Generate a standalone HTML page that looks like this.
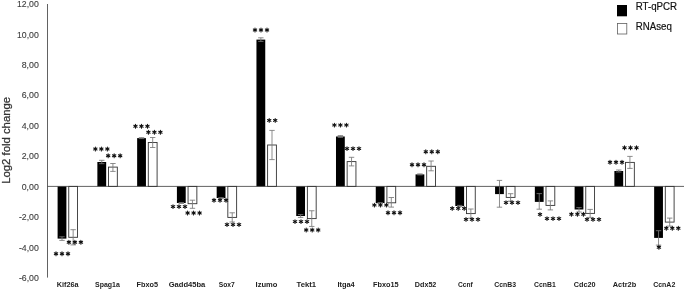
<!DOCTYPE html><html><head><meta charset="utf-8"><style>html,body{margin:0;padding:0;background:#fff}body{width:685px;height:290px;overflow:hidden}svg{will-change:transform;transform:translateZ(0)}</style></head><body><svg width="685" height="290" viewBox="0 0 685 290" style="display:block;font-family:'Liberation Sans',sans-serif"><rect width="685" height="290" fill="#fff"/><rect x="57.60" y="186.40" width="8.80" height="52.20" fill="#000"/><rect x="68.75" y="186.40" width="8.80" height="50.90" fill="#fff" stroke="#333" stroke-width="0.9"/><path d="M62.00 236.80V240.40M59.30 236.80H64.70M59.30 240.40H64.70" stroke="#787878" stroke-width="0.85" fill="none"/><path d="M73.15 229.70V244.90M70.45 229.70H75.85M70.45 244.90H75.85" stroke="#787878" stroke-width="0.85" fill="none"/><rect x="97.37" y="162.00" width="8.80" height="24.40" fill="#000"/><rect x="108.52" y="167.10" width="8.80" height="19.30" fill="#fff" stroke="#333" stroke-width="0.9"/><path d="M101.77 160.30V163.70M99.07 160.30H104.47M99.07 163.70H104.47" stroke="#787878" stroke-width="0.85" fill="none"/><path d="M112.92 163.50V171.40M110.22 163.50H115.62M110.22 171.40H115.62" stroke="#787878" stroke-width="0.85" fill="none"/><rect x="137.14" y="138.10" width="8.80" height="48.30" fill="#000"/><rect x="148.29" y="142.50" width="8.80" height="43.90" fill="#fff" stroke="#333" stroke-width="0.9"/><path d="M141.54 137.60V138.60M138.84 137.60H144.24M138.84 138.60H144.24" stroke="#787878" stroke-width="0.85" fill="none"/><path d="M152.69 137.50V147.50M149.99 137.50H155.39M149.99 147.50H155.39" stroke="#787878" stroke-width="0.85" fill="none"/><rect x="176.91" y="186.40" width="8.80" height="16.60" fill="#000"/><rect x="188.06" y="186.40" width="8.80" height="17.30" fill="#fff" stroke="#333" stroke-width="0.9"/><path d="M181.31 202.50V203.50M178.61 202.50H184.01M178.61 203.50H184.01" stroke="#787878" stroke-width="0.85" fill="none"/><path d="M192.46 200.20V208.30M189.76 200.20H195.16M189.76 208.30H195.16" stroke="#787878" stroke-width="0.85" fill="none"/><rect x="216.68" y="186.40" width="8.80" height="11.60" fill="#000"/><rect x="227.83" y="186.40" width="8.80" height="31.00" fill="#fff" stroke="#333" stroke-width="0.9"/><path d="M221.08 197.60V198.40M218.38 197.60H223.78M218.38 198.40H223.78" stroke="#787878" stroke-width="0.85" fill="none"/><path d="M232.23 212.80V222.00M229.53 212.80H234.93M229.53 222.00H234.93" stroke="#787878" stroke-width="0.85" fill="none"/><rect x="256.45" y="39.60" width="8.80" height="146.80" fill="#000"/><rect x="267.60" y="145.00" width="8.80" height="41.40" fill="#fff" stroke="#333" stroke-width="0.9"/><path d="M260.85 37.80V41.40M258.15 37.80H263.55M258.15 41.40H263.55" stroke="#787878" stroke-width="0.85" fill="none"/><path d="M272.00 130.40V159.60M269.30 130.40H274.70M269.30 159.60H274.70" stroke="#787878" stroke-width="0.85" fill="none"/><rect x="296.22" y="186.40" width="8.80" height="29.60" fill="#000"/><rect x="307.37" y="186.40" width="8.80" height="32.20" fill="#fff" stroke="#333" stroke-width="0.9"/><path d="M300.62 214.60V217.40M297.92 214.60H303.32M297.92 217.40H303.32" stroke="#787878" stroke-width="0.85" fill="none"/><path d="M311.77 210.75V226.45M309.07 210.75H314.47M309.07 226.45H314.47" stroke="#787878" stroke-width="0.85" fill="none"/><rect x="335.99" y="136.50" width="8.80" height="49.90" fill="#000"/><rect x="347.14" y="161.60" width="8.80" height="24.80" fill="#fff" stroke="#333" stroke-width="0.9"/><path d="M340.39 135.60V137.40M337.69 135.60H343.09M337.69 137.40H343.09" stroke="#787878" stroke-width="0.85" fill="none"/><path d="M351.54 157.30V165.90M348.84 157.30H354.24M348.84 165.90H354.24" stroke="#787878" stroke-width="0.85" fill="none"/><rect x="375.76" y="186.40" width="8.80" height="16.60" fill="#000"/><rect x="386.91" y="186.40" width="8.80" height="16.40" fill="#fff" stroke="#333" stroke-width="0.9"/><path d="M380.16 202.60V203.40M377.46 202.60H382.86M377.46 203.40H382.86" stroke="#787878" stroke-width="0.85" fill="none"/><path d="M391.31 197.50V207.10M388.61 197.50H394.01M388.61 207.10H394.01" stroke="#787878" stroke-width="0.85" fill="none"/><rect x="415.53" y="174.40" width="8.80" height="12.00" fill="#000"/><rect x="426.68" y="166.30" width="8.80" height="20.10" fill="#fff" stroke="#333" stroke-width="0.9"/><path d="M419.93 173.90V174.90M417.23 173.90H422.63M417.23 174.90H422.63" stroke="#787878" stroke-width="0.85" fill="none"/><path d="M431.08 161.00V170.80M428.38 161.00H433.78M428.38 170.80H433.78" stroke="#787878" stroke-width="0.85" fill="none"/><rect x="455.30" y="186.40" width="8.80" height="19.60" fill="#000"/><rect x="466.45" y="186.40" width="8.80" height="27.20" fill="#fff" stroke="#333" stroke-width="0.9"/><path d="M459.70 205.40V206.60M457.00 205.40H462.40M457.00 206.60H462.40" stroke="#787878" stroke-width="0.85" fill="none"/><path d="M470.85 209.00V218.20M468.15 209.00H473.55M468.15 218.20H473.55" stroke="#787878" stroke-width="0.85" fill="none"/><rect x="495.07" y="186.40" width="8.80" height="7.70" fill="#000"/><rect x="506.22" y="186.40" width="8.80" height="11.00" fill="#fff" stroke="#333" stroke-width="0.9"/><path d="M499.47 180.40V207.20M496.77 180.40H502.17M496.77 207.20H502.17" stroke="#787878" stroke-width="0.85" fill="none"/><path d="M510.62 193.70V201.10M507.92 193.70H513.32M507.92 201.10H513.32" stroke="#787878" stroke-width="0.85" fill="none"/><rect x="534.84" y="186.40" width="8.80" height="15.50" fill="#000"/><rect x="545.99" y="186.40" width="8.80" height="19.00" fill="#fff" stroke="#333" stroke-width="0.9"/><path d="M539.24 193.60V209.20M536.54 193.60H541.94M536.54 209.20H541.94" stroke="#787878" stroke-width="0.85" fill="none"/><path d="M550.39 200.90V209.90M547.69 200.90H553.09M547.69 209.90H553.09" stroke="#787878" stroke-width="0.85" fill="none"/><rect x="574.61" y="186.40" width="8.80" height="23.10" fill="#000"/><rect x="585.76" y="186.40" width="8.80" height="27.00" fill="#fff" stroke="#333" stroke-width="0.9"/><path d="M579.01 207.60V212.00M576.31 207.60H581.71M576.31 212.00H581.71" stroke="#787878" stroke-width="0.85" fill="none"/><path d="M590.16 209.40V217.40M587.46 209.40H592.86M587.46 217.40H592.86" stroke="#787878" stroke-width="0.85" fill="none"/><rect x="614.38" y="171.00" width="8.80" height="15.40" fill="#000"/><rect x="625.53" y="162.40" width="8.80" height="24.00" fill="#fff" stroke="#333" stroke-width="0.9"/><path d="M618.78 170.00V172.00M616.08 170.00H621.48M616.08 172.00H621.48" stroke="#787878" stroke-width="0.85" fill="none"/><path d="M629.93 156.40V168.40M627.23 156.40H632.63M627.23 168.40H632.63" stroke="#787878" stroke-width="0.85" fill="none"/><rect x="654.15" y="186.40" width="8.80" height="51.50" fill="#000"/><rect x="665.30" y="186.40" width="8.80" height="35.70" fill="#fff" stroke="#333" stroke-width="0.9"/><path d="M658.55 230.70V245.10M655.85 230.70H661.25M655.85 245.10H661.25" stroke="#787878" stroke-width="0.85" fill="none"/><path d="M669.70 218.10V226.10M667.00 218.10H672.40M667.00 226.10H672.40" stroke="#787878" stroke-width="0.85" fill="none"/><path d="M47.50 4.0V277.6" stroke="#3a3a3a" stroke-width="0.8" fill="none"/><path d="M47.50 186.4H684" stroke="#3a3a3a" stroke-width="0.8" fill="none"/><path d="M56.00 253.80L56.00 251.85M56.00 253.80L57.69 252.83M56.00 253.80L57.69 254.78M56.00 253.80L56.00 255.75M56.00 253.80L54.31 254.78M56.00 253.80L54.31 252.83M62.00 253.80L62.00 251.85M62.00 253.80L63.69 252.83M62.00 253.80L63.69 254.78M62.00 253.80L62.00 255.75M62.00 253.80L60.31 254.78M62.00 253.80L60.31 252.83M68.00 253.80L68.00 251.85M68.00 253.80L69.69 252.83M68.00 253.80L69.69 254.78M68.00 253.80L68.00 255.75M68.00 253.80L66.31 254.78M68.00 253.80L66.31 252.83M68.90 242.20L68.90 240.25M68.90 242.20L70.59 241.22M68.90 242.20L70.59 243.17M68.90 242.20L68.90 244.15M68.90 242.20L67.21 243.17M68.90 242.20L67.21 241.22M74.90 242.20L74.90 240.25M74.90 242.20L76.59 241.22M74.90 242.20L76.59 243.17M74.90 242.20L74.90 244.15M74.90 242.20L73.21 243.17M74.90 242.20L73.21 241.22M80.90 242.20L80.90 240.25M80.90 242.20L82.59 241.22M80.90 242.20L82.59 243.17M80.90 242.20L80.90 244.15M80.90 242.20L79.21 243.17M80.90 242.20L79.21 241.22M95.35 149.00L95.35 147.05M95.35 149.00L97.04 148.03M95.35 149.00L97.04 149.97M95.35 149.00L95.35 150.95M95.35 149.00L93.66 149.97M95.35 149.00L93.66 148.03M101.35 149.00L101.35 147.05M101.35 149.00L103.04 148.03M101.35 149.00L103.04 149.97M101.35 149.00L101.35 150.95M101.35 149.00L99.66 149.97M101.35 149.00L99.66 148.03M107.35 149.00L107.35 147.05M107.35 149.00L109.04 148.03M107.35 149.00L109.04 149.97M107.35 149.00L107.35 150.95M107.35 149.00L105.66 149.97M107.35 149.00L105.66 148.03M108.15 155.70L108.15 153.75M108.15 155.70L109.84 154.72M108.15 155.70L109.84 156.67M108.15 155.70L108.15 157.65M108.15 155.70L106.46 156.67M108.15 155.70L106.46 154.72M114.15 155.70L114.15 153.75M114.15 155.70L115.84 154.72M114.15 155.70L115.84 156.67M114.15 155.70L114.15 157.65M114.15 155.70L112.46 156.67M114.15 155.70L112.46 154.72M120.15 155.70L120.15 153.75M120.15 155.70L121.84 154.72M120.15 155.70L121.84 156.67M120.15 155.70L120.15 157.65M120.15 155.70L118.46 156.67M120.15 155.70L118.46 154.72M135.45 126.30L135.45 124.35M135.45 126.30L137.14 125.33M135.45 126.30L137.14 127.27M135.45 126.30L135.45 128.25M135.45 126.30L133.76 127.27M135.45 126.30L133.76 125.33M141.45 126.30L141.45 124.35M141.45 126.30L143.14 125.33M141.45 126.30L143.14 127.27M141.45 126.30L141.45 128.25M141.45 126.30L139.76 127.27M141.45 126.30L139.76 125.33M147.45 126.30L147.45 124.35M147.45 126.30L149.14 125.33M147.45 126.30L149.14 127.27M147.45 126.30L147.45 128.25M147.45 126.30L145.76 127.27M147.45 126.30L145.76 125.33M148.40 132.30L148.40 130.35M148.40 132.30L150.09 131.33M148.40 132.30L150.09 133.28M148.40 132.30L148.40 134.25M148.40 132.30L146.71 133.28M148.40 132.30L146.71 131.33M154.40 132.30L154.40 130.35M154.40 132.30L156.09 131.33M154.40 132.30L156.09 133.28M154.40 132.30L154.40 134.25M154.40 132.30L152.71 133.28M154.40 132.30L152.71 131.33M160.40 132.30L160.40 130.35M160.40 132.30L162.09 131.33M160.40 132.30L162.09 133.28M160.40 132.30L160.40 134.25M160.40 132.30L158.71 133.28M160.40 132.30L158.71 131.33M173.00 206.60L173.00 204.65M173.00 206.60L174.69 205.62M173.00 206.60L174.69 207.57M173.00 206.60L173.00 208.55M173.00 206.60L171.31 207.57M173.00 206.60L171.31 205.62M179.00 206.60L179.00 204.65M179.00 206.60L180.69 205.62M179.00 206.60L180.69 207.57M179.00 206.60L179.00 208.55M179.00 206.60L177.31 207.57M179.00 206.60L177.31 205.62M185.00 206.60L185.00 204.65M185.00 206.60L186.69 205.62M185.00 206.60L186.69 207.57M185.00 206.60L185.00 208.55M185.00 206.60L183.31 207.57M185.00 206.60L183.31 205.62M187.60 213.00L187.60 211.05M187.60 213.00L189.29 212.03M187.60 213.00L189.29 213.97M187.60 213.00L187.60 214.95M187.60 213.00L185.91 213.97M187.60 213.00L185.91 212.03M193.60 213.00L193.60 211.05M193.60 213.00L195.29 212.03M193.60 213.00L195.29 213.97M193.60 213.00L193.60 214.95M193.60 213.00L191.91 213.97M193.60 213.00L191.91 212.03M199.60 213.00L199.60 211.05M199.60 213.00L201.29 212.03M199.60 213.00L201.29 213.97M199.60 213.00L199.60 214.95M199.60 213.00L197.91 213.97M199.60 213.00L197.91 212.03M214.00 200.20L214.00 198.25M214.00 200.20L215.69 199.22M214.00 200.20L215.69 201.17M214.00 200.20L214.00 202.15M214.00 200.20L212.31 201.17M214.00 200.20L212.31 199.22M220.00 200.20L220.00 198.25M220.00 200.20L221.69 199.22M220.00 200.20L221.69 201.17M220.00 200.20L220.00 202.15M220.00 200.20L218.31 201.17M220.00 200.20L218.31 199.22M226.00 200.20L226.00 198.25M226.00 200.20L227.69 199.22M226.00 200.20L227.69 201.17M226.00 200.20L226.00 202.15M226.00 200.20L224.31 201.17M226.00 200.20L224.31 199.22M227.00 224.60L227.00 222.65M227.00 224.60L228.69 223.62M227.00 224.60L228.69 225.57M227.00 224.60L227.00 226.55M227.00 224.60L225.31 225.57M227.00 224.60L225.31 223.62M233.00 224.60L233.00 222.65M233.00 224.60L234.69 223.62M233.00 224.60L234.69 225.57M233.00 224.60L233.00 226.55M233.00 224.60L231.31 225.57M233.00 224.60L231.31 223.62M239.00 224.60L239.00 222.65M239.00 224.60L240.69 223.62M239.00 224.60L240.69 225.57M239.00 224.60L239.00 226.55M239.00 224.60L237.31 225.57M239.00 224.60L237.31 223.62M255.00 30.00L255.00 28.05M255.00 30.00L256.69 29.02M255.00 30.00L256.69 30.98M255.00 30.00L255.00 31.95M255.00 30.00L253.31 30.98M255.00 30.00L253.31 29.02M261.00 30.00L261.00 28.05M261.00 30.00L262.69 29.02M261.00 30.00L262.69 30.98M261.00 30.00L261.00 31.95M261.00 30.00L259.31 30.98M261.00 30.00L259.31 29.02M267.00 30.00L267.00 28.05M267.00 30.00L268.69 29.02M267.00 30.00L268.69 30.98M267.00 30.00L267.00 31.95M267.00 30.00L265.31 30.98M267.00 30.00L265.31 29.02M269.20 120.40L269.20 118.45M269.20 120.40L270.89 119.43M269.20 120.40L270.89 121.38M269.20 120.40L269.20 122.35M269.20 120.40L267.51 121.38M269.20 120.40L267.51 119.43M275.20 120.40L275.20 118.45M275.20 120.40L276.89 119.43M275.20 120.40L276.89 121.38M275.20 120.40L275.20 122.35M275.20 120.40L273.51 121.38M275.20 120.40L273.51 119.43M295.00 221.60L295.00 219.65M295.00 221.60L296.69 220.62M295.00 221.60L296.69 222.57M295.00 221.60L295.00 223.55M295.00 221.60L293.31 222.57M295.00 221.60L293.31 220.62M301.00 221.60L301.00 219.65M301.00 221.60L302.69 220.62M301.00 221.60L302.69 222.57M301.00 221.60L301.00 223.55M301.00 221.60L299.31 222.57M301.00 221.60L299.31 220.62M307.00 221.60L307.00 219.65M307.00 221.60L308.69 220.62M307.00 221.60L308.69 222.57M307.00 221.60L307.00 223.55M307.00 221.60L305.31 222.57M307.00 221.60L305.31 220.62M306.20 230.00L306.20 228.05M306.20 230.00L307.89 229.03M306.20 230.00L307.89 230.97M306.20 230.00L306.20 231.95M306.20 230.00L304.51 230.97M306.20 230.00L304.51 229.03M312.20 230.00L312.20 228.05M312.20 230.00L313.89 229.03M312.20 230.00L313.89 230.97M312.20 230.00L312.20 231.95M312.20 230.00L310.51 230.97M312.20 230.00L310.51 229.03M318.20 230.00L318.20 228.05M318.20 230.00L319.89 229.03M318.20 230.00L319.89 230.97M318.20 230.00L318.20 231.95M318.20 230.00L316.51 230.97M318.20 230.00L316.51 229.03M334.40 125.10L334.40 123.15M334.40 125.10L336.09 124.12M334.40 125.10L336.09 126.07M334.40 125.10L334.40 127.05M334.40 125.10L332.71 126.07M334.40 125.10L332.71 124.12M340.40 125.10L340.40 123.15M340.40 125.10L342.09 124.12M340.40 125.10L342.09 126.07M340.40 125.10L340.40 127.05M340.40 125.10L338.71 126.07M340.40 125.10L338.71 124.12M346.40 125.10L346.40 123.15M346.40 125.10L348.09 124.12M346.40 125.10L348.09 126.07M346.40 125.10L346.40 127.05M346.40 125.10L344.71 126.07M346.40 125.10L344.71 124.12M347.00 148.60L347.00 146.65M347.00 148.60L348.69 147.62M347.00 148.60L348.69 149.57M347.00 148.60L347.00 150.55M347.00 148.60L345.31 149.57M347.00 148.60L345.31 147.62M353.00 148.60L353.00 146.65M353.00 148.60L354.69 147.62M353.00 148.60L354.69 149.57M353.00 148.60L353.00 150.55M353.00 148.60L351.31 149.57M353.00 148.60L351.31 147.62M359.00 148.60L359.00 146.65M359.00 148.60L360.69 147.62M359.00 148.60L360.69 149.57M359.00 148.60L359.00 150.55M359.00 148.60L357.31 149.57M359.00 148.60L357.31 147.62M374.40 205.10L374.40 203.15M374.40 205.10L376.09 204.12M374.40 205.10L376.09 206.07M374.40 205.10L374.40 207.05M374.40 205.10L372.71 206.07M374.40 205.10L372.71 204.12M380.40 205.10L380.40 203.15M380.40 205.10L382.09 204.12M380.40 205.10L382.09 206.07M380.40 205.10L380.40 207.05M380.40 205.10L378.71 206.07M380.40 205.10L378.71 204.12M386.40 205.10L386.40 203.15M386.40 205.10L388.09 204.12M386.40 205.10L388.09 206.07M386.40 205.10L386.40 207.05M386.40 205.10L384.71 206.07M386.40 205.10L384.71 204.12M388.00 212.70L388.00 210.75M388.00 212.70L389.69 211.72M388.00 212.70L389.69 213.67M388.00 212.70L388.00 214.65M388.00 212.70L386.31 213.67M388.00 212.70L386.31 211.72M394.00 212.70L394.00 210.75M394.00 212.70L395.69 211.72M394.00 212.70L395.69 213.67M394.00 212.70L394.00 214.65M394.00 212.70L392.31 213.67M394.00 212.70L392.31 211.72M400.00 212.70L400.00 210.75M400.00 212.70L401.69 211.72M400.00 212.70L401.69 213.67M400.00 212.70L400.00 214.65M400.00 212.70L398.31 213.67M400.00 212.70L398.31 211.72M412.00 164.80L412.00 162.85M412.00 164.80L413.69 163.83M412.00 164.80L413.69 165.78M412.00 164.80L412.00 166.75M412.00 164.80L410.31 165.78M412.00 164.80L410.31 163.83M418.00 164.80L418.00 162.85M418.00 164.80L419.69 163.83M418.00 164.80L419.69 165.78M418.00 164.80L418.00 166.75M418.00 164.80L416.31 165.78M418.00 164.80L416.31 163.83M424.00 164.80L424.00 162.85M424.00 164.80L425.69 163.83M424.00 164.80L425.69 165.78M424.00 164.80L424.00 166.75M424.00 164.80L422.31 165.78M424.00 164.80L422.31 163.83M425.80 151.70L425.80 149.75M425.80 151.70L427.49 150.72M425.80 151.70L427.49 152.67M425.80 151.70L425.80 153.65M425.80 151.70L424.11 152.67M425.80 151.70L424.11 150.72M431.80 151.70L431.80 149.75M431.80 151.70L433.49 150.72M431.80 151.70L433.49 152.67M431.80 151.70L431.80 153.65M431.80 151.70L430.11 152.67M431.80 151.70L430.11 150.72M437.80 151.70L437.80 149.75M437.80 151.70L439.49 150.72M437.80 151.70L439.49 152.67M437.80 151.70L437.80 153.65M437.80 151.70L436.11 152.67M437.80 151.70L436.11 150.72M452.20 208.40L452.20 206.45M452.20 208.40L453.89 207.43M452.20 208.40L453.89 209.38M452.20 208.40L452.20 210.35M452.20 208.40L450.51 209.38M452.20 208.40L450.51 207.43M458.20 208.40L458.20 206.45M458.20 208.40L459.89 207.43M458.20 208.40L459.89 209.38M458.20 208.40L458.20 210.35M458.20 208.40L456.51 209.38M458.20 208.40L456.51 207.43M464.20 208.40L464.20 206.45M464.20 208.40L465.89 207.43M464.20 208.40L465.89 209.38M464.20 208.40L464.20 210.35M464.20 208.40L462.51 209.38M464.20 208.40L462.51 207.43M466.00 219.40L466.00 217.45M466.00 219.40L467.69 218.43M466.00 219.40L467.69 220.38M466.00 219.40L466.00 221.35M466.00 219.40L464.31 220.38M466.00 219.40L464.31 218.43M472.00 219.40L472.00 217.45M472.00 219.40L473.69 218.43M472.00 219.40L473.69 220.38M472.00 219.40L472.00 221.35M472.00 219.40L470.31 220.38M472.00 219.40L470.31 218.43M478.00 219.40L478.00 217.45M478.00 219.40L479.69 218.43M478.00 219.40L479.69 220.38M478.00 219.40L478.00 221.35M478.00 219.40L476.31 220.38M478.00 219.40L476.31 218.43M506.00 202.60L506.00 200.65M506.00 202.60L507.69 201.62M506.00 202.60L507.69 203.57M506.00 202.60L506.00 204.55M506.00 202.60L504.31 203.57M506.00 202.60L504.31 201.62M512.00 202.60L512.00 200.65M512.00 202.60L513.69 201.62M512.00 202.60L513.69 203.57M512.00 202.60L512.00 204.55M512.00 202.60L510.31 203.57M512.00 202.60L510.31 201.62M518.00 202.60L518.00 200.65M518.00 202.60L519.69 201.62M518.00 202.60L519.69 203.57M518.00 202.60L518.00 204.55M518.00 202.60L516.31 203.57M518.00 202.60L516.31 201.62M540.00 214.40L540.00 212.45M540.00 214.40L541.69 213.43M540.00 214.40L541.69 215.38M540.00 214.40L540.00 216.35M540.00 214.40L538.31 215.38M540.00 214.40L538.31 213.43M547.00 218.60L547.00 216.65M547.00 218.60L548.69 217.62M547.00 218.60L548.69 219.57M547.00 218.60L547.00 220.55M547.00 218.60L545.31 219.57M547.00 218.60L545.31 217.62M553.00 218.60L553.00 216.65M553.00 218.60L554.69 217.62M553.00 218.60L554.69 219.57M553.00 218.60L553.00 220.55M553.00 218.60L551.31 219.57M553.00 218.60L551.31 217.62M559.00 218.60L559.00 216.65M559.00 218.60L560.69 217.62M559.00 218.60L560.69 219.57M559.00 218.60L559.00 220.55M559.00 218.60L557.31 219.57M559.00 218.60L557.31 217.62M571.40 214.30L571.40 212.35M571.40 214.30L573.09 213.33M571.40 214.30L573.09 215.28M571.40 214.30L571.40 216.25M571.40 214.30L569.71 215.28M571.40 214.30L569.71 213.33M577.40 214.30L577.40 212.35M577.40 214.30L579.09 213.33M577.40 214.30L579.09 215.28M577.40 214.30L577.40 216.25M577.40 214.30L575.71 215.28M577.40 214.30L575.71 213.33M583.40 214.30L583.40 212.35M583.40 214.30L585.09 213.33M583.40 214.30L585.09 215.28M583.40 214.30L583.40 216.25M583.40 214.30L581.71 215.28M583.40 214.30L581.71 213.33M587.00 219.40L587.00 217.45M587.00 219.40L588.69 218.43M587.00 219.40L588.69 220.38M587.00 219.40L587.00 221.35M587.00 219.40L585.31 220.38M587.00 219.40L585.31 218.43M593.00 219.40L593.00 217.45M593.00 219.40L594.69 218.43M593.00 219.40L594.69 220.38M593.00 219.40L593.00 221.35M593.00 219.40L591.31 220.38M593.00 219.40L591.31 218.43M599.00 219.40L599.00 217.45M599.00 219.40L600.69 218.43M599.00 219.40L600.69 220.38M599.00 219.40L599.00 221.35M599.00 219.40L597.31 220.38M599.00 219.40L597.31 218.43M610.00 162.20L610.00 160.25M610.00 162.20L611.69 161.22M610.00 162.20L611.69 163.17M610.00 162.20L610.00 164.15M610.00 162.20L608.31 163.17M610.00 162.20L608.31 161.22M616.00 162.20L616.00 160.25M616.00 162.20L617.69 161.22M616.00 162.20L617.69 163.17M616.00 162.20L616.00 164.15M616.00 162.20L614.31 163.17M616.00 162.20L614.31 161.22M622.00 162.20L622.00 160.25M622.00 162.20L623.69 161.22M622.00 162.20L623.69 163.17M622.00 162.20L622.00 164.15M622.00 162.20L620.31 163.17M622.00 162.20L620.31 161.22M624.50 147.80L624.50 145.85M624.50 147.80L626.19 146.83M624.50 147.80L626.19 148.78M624.50 147.80L624.50 149.75M624.50 147.80L622.81 148.78M624.50 147.80L622.81 146.83M630.50 147.80L630.50 145.85M630.50 147.80L632.19 146.83M630.50 147.80L632.19 148.78M630.50 147.80L630.50 149.75M630.50 147.80L628.81 148.78M630.50 147.80L628.81 146.83M636.50 147.80L636.50 145.85M636.50 147.80L638.19 146.83M636.50 147.80L638.19 148.78M636.50 147.80L636.50 149.75M636.50 147.80L634.81 148.78M636.50 147.80L634.81 146.83M658.90 247.30L658.90 245.35M658.90 247.30L660.59 246.33M658.90 247.30L660.59 248.28M658.90 247.30L658.90 249.25M658.90 247.30L657.21 248.28M658.90 247.30L657.21 246.33M666.30 228.20L666.30 226.25M666.30 228.20L667.99 227.22M666.30 228.20L667.99 229.17M666.30 228.20L666.30 230.15M666.30 228.20L664.61 229.17M666.30 228.20L664.61 227.22M672.30 228.20L672.30 226.25M672.30 228.20L673.99 227.22M672.30 228.20L673.99 229.17M672.30 228.20L672.30 230.15M672.30 228.20L670.61 229.17M672.30 228.20L670.61 227.22M678.30 228.20L678.30 226.25M678.30 228.20L679.99 227.22M678.30 228.20L679.99 229.17M678.30 228.20L678.30 230.15M678.30 228.20L676.61 229.17M678.30 228.20L676.61 227.22" stroke="#111" stroke-width="1.05" stroke-linecap="round" fill="none"/><text x="56.73" y="287.4" font-size="7.7" font-weight="bold" fill="#222" textLength="21.9" lengthAdjust="spacingAndGlyphs">Kif26a</text><text x="95.05" y="287.4" font-size="7.7" font-weight="bold" fill="#222" textLength="24.8" lengthAdjust="spacingAndGlyphs">Spag1a</text><text x="136.48" y="287.4" font-size="7.7" font-weight="bold" fill="#222" textLength="21.5" lengthAdjust="spacingAndGlyphs">Fbxo5</text><text x="168.65" y="287.4" font-size="7.7" font-weight="bold" fill="#222" textLength="36.7" lengthAdjust="spacingAndGlyphs">Gadd45ba</text><text x="218.76" y="287.4" font-size="7.7" font-weight="bold" fill="#222" textLength="16.0" lengthAdjust="spacingAndGlyphs">Sox7</text><text x="255.59" y="287.4" font-size="7.7" font-weight="bold" fill="#222" textLength="21.9" lengthAdjust="spacingAndGlyphs">Izumo</text><text x="296.50" y="287.4" font-size="7.7" font-weight="bold" fill="#222" textLength="19.6" lengthAdjust="spacingAndGlyphs">Tekt1</text><text x="337.43" y="287.4" font-size="7.7" font-weight="bold" fill="#222" textLength="17.3" lengthAdjust="spacingAndGlyphs">Itga4</text><text x="373.00" y="287.4" font-size="7.7" font-weight="bold" fill="#222" textLength="25.7" lengthAdjust="spacingAndGlyphs">Fbxo15</text><text x="414.87" y="287.4" font-size="7.7" font-weight="bold" fill="#222" textLength="21.5" lengthAdjust="spacingAndGlyphs">Ddx52</text><text x="458.04" y="287.4" font-size="7.7" font-weight="bold" fill="#222" textLength="14.7" lengthAdjust="spacingAndGlyphs">Ccnf</text><text x="494.31" y="287.4" font-size="7.7" font-weight="bold" fill="#222" textLength="21.7" lengthAdjust="spacingAndGlyphs">CcnB3</text><text x="534.08" y="287.4" font-size="7.7" font-weight="bold" fill="#222" textLength="21.7" lengthAdjust="spacingAndGlyphs">CcnB1</text><text x="573.85" y="287.4" font-size="7.7" font-weight="bold" fill="#222" textLength="21.7" lengthAdjust="spacingAndGlyphs">Cdc20</text><text x="612.72" y="287.4" font-size="7.7" font-weight="bold" fill="#222" textLength="23.5" lengthAdjust="spacingAndGlyphs">Actr2b</text><text x="653.19" y="287.4" font-size="7.7" font-weight="bold" fill="#222" textLength="22.1" lengthAdjust="spacingAndGlyphs">CcnA2</text><text x="17.00" y="7.06" font-size="8.3" fill="#3c3c3c" stroke="#3c3c3c" stroke-width="0.1" textLength="21.8" lengthAdjust="spacingAndGlyphs">12,00</text><text x="17.00" y="37.50" font-size="8.3" fill="#3c3c3c" stroke="#3c3c3c" stroke-width="0.1" textLength="21.8" lengthAdjust="spacingAndGlyphs">10,00</text><text x="21.70" y="67.94" font-size="8.3" fill="#3c3c3c" stroke="#3c3c3c" stroke-width="0.1" textLength="17.1" lengthAdjust="spacingAndGlyphs">8,00</text><text x="21.70" y="98.38" font-size="8.3" fill="#3c3c3c" stroke="#3c3c3c" stroke-width="0.1" textLength="17.1" lengthAdjust="spacingAndGlyphs">6,00</text><text x="21.70" y="128.82" font-size="8.3" fill="#3c3c3c" stroke="#3c3c3c" stroke-width="0.1" textLength="17.1" lengthAdjust="spacingAndGlyphs">4,00</text><text x="21.70" y="159.26" font-size="8.3" fill="#3c3c3c" stroke="#3c3c3c" stroke-width="0.1" textLength="17.1" lengthAdjust="spacingAndGlyphs">2,00</text><text x="21.70" y="189.70" font-size="8.3" fill="#3c3c3c" stroke="#3c3c3c" stroke-width="0.1" textLength="17.1" lengthAdjust="spacingAndGlyphs">0,00</text><text x="18.90" y="220.14" font-size="8.3" fill="#3c3c3c" stroke="#3c3c3c" stroke-width="0.1" textLength="19.900000000000002" lengthAdjust="spacingAndGlyphs">-2,00</text><text x="18.90" y="250.58" font-size="8.3" fill="#3c3c3c" stroke="#3c3c3c" stroke-width="0.1" textLength="19.900000000000002" lengthAdjust="spacingAndGlyphs">-4,00</text><text x="18.90" y="281.02" font-size="8.3" fill="#3c3c3c" stroke="#3c3c3c" stroke-width="0.1" textLength="19.900000000000002" lengthAdjust="spacingAndGlyphs">-6,00</text><text transform="translate(9.9,183.8) rotate(-90)" font-size="11.0" fill="#333" stroke="#333" stroke-width="0.25" textLength="86.9" lengthAdjust="spacingAndGlyphs">Log2 fold change</text><rect x="617" y="5" width="10" height="11.3" fill="#000"/><rect x="617.4" y="23.4" width="9.4" height="10.6" fill="#fff" stroke="#606060" stroke-width="0.8"/><text x="635.7" y="10.3" font-size="10.4" fill="#111" stroke="#111" stroke-width="0.2" textLength="41.4" lengthAdjust="spacingAndGlyphs">RT-qPCR</text><text x="635.7" y="30.0" font-size="10.4" fill="#111" stroke="#111" stroke-width="0.2" textLength="36.1" lengthAdjust="spacingAndGlyphs">RNAseq</text></svg></body></html>
